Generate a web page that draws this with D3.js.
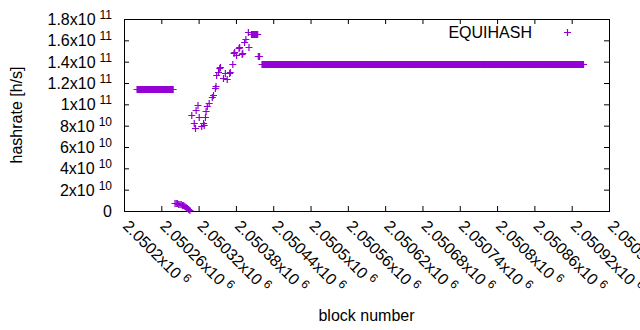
<!DOCTYPE html>
<html>
<head>
<meta charset="utf-8">
<script src="https://cdn.jsdelivr.net/npm/d3@7"></script>
<style>
  body { margin: 0; background: #fff; }
  svg { font-family: "Liberation Sans", Arial, sans-serif; }
</style>
</head>
<body>
<div class="container"></div>
<script>
/********** the Data **********/
// flat stretches: same hashrate for every block in [start, end]
let runStart = [2050221, 2050405, 2050422];
let runEnd   = [2050279, 2050415, 2050939];
let runValue = [1.141e11, 1.656e11, 1.375e11];

// single blocks (drop near zero, then the climb)
let blocks = [
  2050282, 2050284, 2050286, 2050288, 2050290, 2050292, 2050294, 2050296,
  2050298, 2050300, 2050302, 2050304, 2050306,
  2050309, 2050313, 2050315, 2050316, 2050319, 2050321, 2050325, 2050328,
  2050329, 2050331, 2050332, 2050334, 2050337, 2050342, 2050344, 2050347,
  2050348, 2050349, 2050352, 2050354, 2050355, 2050360, 2050363, 2050366,
  2050370, 2050371, 2050375, 2050377, 2050378, 2050381, 2050385, 2050386,
  2050390, 2050391, 2050394, 2050396, 2050400, 2050401, 2050416, 2050418
];
let hashrate = [
  7.2e9, 7.2e9, 7.1e9, 7.0e9, 6.8e9, 6.4e9, 5.9e9, 5.3e9,
  4.6e9, 3.8e9, 3.0e9, 2.0e9, 1.0e9,
  9.0e10, 8.22e10, 7.75e10, 9.47e10, 9.94e10, 8.84e10, 7.97e10, 8.22e10,
  8.1e10, 8.84e10, 9.4e10, 9.84e10, 1.015e11, 1.072e11, 1.088e11, 1.15e11,
  1.172e11, 1.275e11, 1.306e11, 1.338e11, 1.35e11, 1.244e11, 1.291e11, 1.235e11,
  1.297e11, 1.305e11, 1.378e11, 1.478e11, 1.49e11, 1.463e11, 1.525e11, 1.535e11,
  1.472e11, 1.48e11, 1.587e11, 1.61e11, 1.681e11, 1.54e11, 1.453e11, 1.453e11
];

let xTicks = [2050200, 2050260, 2050320, 2050380, 2050440, 2050500, 2050560,
              2050620, 2050680, 2050740, 2050800, 2050860, 2050920, 2050980];
let xTickLabels = ["2.0502", "2.05026", "2.05032", "2.05038", "2.05044", "2.0505", "2.05056",
                   "2.05062", "2.05068", "2.05074", "2.0508", "2.05086", "2.05092", "2.05098"];
let xTickExp = "6";

let yTicks = [0, 2e10, 4e10, 6e10, 8e10, 1e11, 1.2e11, 1.4e11, 1.6e11, 1.8e11];
let yTickLabels = ["0", "2", "4", "6", "8", "1", "1.2", "1.4", "1.6", "1.8"];
let yTickExp = ["", "10", "10", "10", "10", "11", "11", "11", "11", "11"];

let seriesName = "EQUIHASH";
let purple = "#9400d3";

/***** Chart dimensions *****/
let width = 640, height = 330;
let margin = {top: 19, right: 31, bottom: 119, left: 124};
let plotW = width - margin.left - margin.right;
let plotH = height - margin.top - margin.bottom;

/***** X-scale and Y-scale *****/
let xScale = d3.scaleLinear()
  .domain([xTicks[0], xTicks[xTicks.length - 1]])
  .range([margin.left, margin.left + plotW]);

let yScale = d3.scaleLinear()
  .domain([0, 1.8e11])
  .range([margin.top + plotH, margin.top]);

/***** append SVG *****/
let chart = d3.select(".container")
  .append("svg")
    .attr("width", width)
    .attr("height", height);

// ticks on all four sides, pointing inwards (gnuplot style)
function tickAxis(axis, tx, ty, cls) {
  let g = chart.append("g")
    .attr("class", cls)
    .attr("transform", `translate(${tx}, ${ty})`)
    .call(axis.tickSizeInner(-5).tickSizeOuter(0).tickFormat(""));
  g.select(".domain").remove();
  g.selectAll("line").attr("stroke", "#000");
  return g;
}
tickAxis(d3.axisBottom(xScale).tickValues(xTicks), 0, margin.top + plotH, "x-axis");
tickAxis(d3.axisTop(xScale).tickValues(xTicks), 0, margin.top, "x-axis-top");
tickAxis(d3.axisLeft(yScale).tickValues(yTicks), margin.left, 0, "y-axis");
tickAxis(d3.axisRight(yScale).tickValues(yTicks), margin.left + plotW, 0, "y-axis-right");

// frame
chart.append("rect")
  .attr("x", margin.left + 0.5)
  .attr("y", margin.top + 0.5)
  .attr("width", plotW)
  .attr("height", plotH)
  .attr("fill", "none")
  .attr("stroke", "#000");

/***** tick labels *****/
let yLab = chart.append("g").selectAll("text")
  .data(yTicks)
  .join("text")
    .attr("x", margin.left - 12)
    .attr("y", d => yScale(d) + 6)
    .attr("text-anchor", "end")
    .attr("font-size", 16)
    .attr("fill", "#000");
yLab.append("tspan").text((d, i) => yTickLabels[i] + (yTickExp[i] ? "x10" : ""));
yLab.filter((d, i) => yTickExp[i] !== "")
  .append("tspan")
    .attr("dx", 4)
    .attr("dy", -6)
    .attr("font-size", 12)
    .text((d, i) => yTickExp[yTicks.indexOf(d)]);

let xLab = chart.append("g").selectAll("text")
  .data(xTicks)
  .join("text")
    .attr("transform", d => `translate(${xScale(d) - 2}, ${margin.top + plotH + 16}) rotate(45)`)
    .attr("font-size", 16)
    .attr("fill", "#000");
xLab.append("tspan").text((d, i) => xTickLabels[i] + "x10");
xLab.append("tspan")
  .attr("dx", 4)
  .attr("dy", -6)
  .attr("font-size", 12)
  .text(xTickExp);

/***** axis titles *****/
chart.append("text")
  .attr("transform", `translate(22, ${margin.top + plotH / 2}) rotate(-90)`)
  .attr("text-anchor", "middle")
  .attr("font-size", 16)
  .text("hashrate [h/s]");

chart.append("text")
  .attr("x", margin.left + plotW / 2)
  .attr("y", 321)
  .attr("text-anchor", "middle")
  .attr("font-size", 16)
  .text("block number");

/***** points *****/
let cross = "M-3.5,0H3.5M0,-3.5V3.5";
let pts = [];
runStart.forEach((s, i) => {
  d3.range(s, runEnd[i] + 1).forEach(b => pts.push([b, runValue[i]]));
});
blocks.forEach((b, i) => pts.push([b, hashrate[i]]));

chart.append("g").selectAll("path")
  .data(pts)
  .join("path")
    .attr("transform", d => `translate(${xScale(d[0])}, ${Math.round(yScale(d[1])) + 0.5})`)
    .attr("d", cross)
    .attr("fill", "none")
    .attr("stroke", purple)
    .attr("stroke-width", 1.2);

/***** legend *****/
chart.append("text")
  .attr("x", 532)
  .attr("y", 37.5)
  .attr("text-anchor", "end")
  .attr("font-size", 16)
  .text(seriesName);

chart.append("path")
  .attr("transform", "translate(567.5, 32.5)")
  .attr("d", cross)
  .attr("stroke", purple)
  .attr("stroke-width", 1.2);
</script>
</body>
</html>
